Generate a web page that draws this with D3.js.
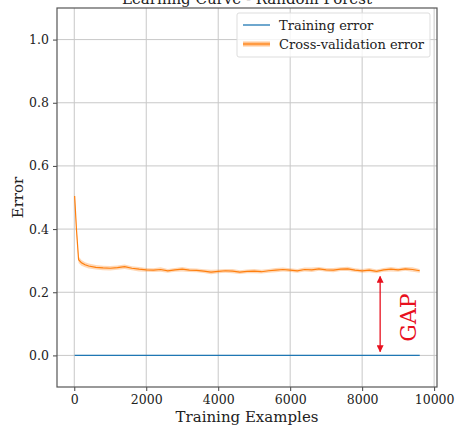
<!DOCTYPE html>
<html>
<head>
<meta charset="utf-8">
<script src="https://cdn.jsdelivr.net/npm/d3@7"></script>
<style>
  body { margin: 0; background: #fff; }
  text { font-family: "DejaVu Serif", serif; fill: #222; }
</style>
</head>
<body>
<svg id="chart" width="457" height="427"></svg>
<script>
// training set sizes
const trainSizes = [10, 60, 120, 200, 300, 400, 600, 800, 1000, 1200, 1400, 1600, 1800,
  2000, 2200, 2400, 2600, 2800, 3000, 3200, 3400, 3600, 3800, 4000, 4200, 4400, 4600,
  4800, 5000, 5200, 5400, 5600, 5800, 6000, 6200, 6400, 6600, 6800, 7000, 7200, 7400,
  7600, 7800, 8000, 8200, 8400, 8600, 8800, 9000, 9200, 9400, 9600];

const cvError = [0.505, 0.40, 0.303, 0.293, 0.287, 0.283, 0.279, 0.277, 0.276, 0.278, 0.281,
  0.276, 0.273, 0.271, 0.270, 0.272, 0.268, 0.271, 0.273, 0.270, 0.269, 0.267, 0.264,
  0.266, 0.268, 0.267, 0.264, 0.266, 0.267, 0.265, 0.268, 0.270, 0.272, 0.270, 0.268,
  0.272, 0.271, 0.274, 0.271, 0.270, 0.273, 0.274, 0.270, 0.268, 0.270, 0.266, 0.271,
  0.273, 0.271, 0.274, 0.272, 0.268];

const cvStd = [0.012, 0.011, 0.010, 0.009, 0.008, 0.008, 0.007, 0.007, 0.007, 0.007, 0.007,
  0.006, 0.007, 0.006, 0.006, 0.007, 0.006, 0.006, 0.007, 0.006, 0.006, 0.006, 0.007,
  0.006, 0.006, 0.007, 0.006, 0.006, 0.007, 0.006, 0.006, 0.007, 0.006, 0.006, 0.006,
  0.006, 0.007, 0.006, 0.006, 0.007, 0.006, 0.007, 0.006, 0.006, 0.007, 0.006, 0.006,
  0.007, 0.006, 0.006, 0.007, 0.006];

const trainError = [0, 0, 0, 0, 0, 0, 0, 0, 0, 0, 0, 0, 0, 0, 0, 0, 0, 0, 0, 0, 0, 0, 0, 0, 0, 0,
  0, 0, 0, 0, 0, 0, 0, 0, 0, 0, 0, 0, 0, 0, 0, 0, 0, 0, 0, 0, 0, 0, 0, 0, 0, 0];

const xTicks = [0, 2000, 4000, 6000, 8000, 10000];
const yTicks = [0.0, 0.2, 0.4, 0.6, 0.8, 1.0];
const legendLabels = ["Training error", "Cross-validation error"];
const gapArrow = { x: 8500, y0: 0.25, y1: 0.012 };
const gapLabel = { x: 9250, y: 0.12, text: "GAP" };

const svg = d3.select("#chart");
const margin = { top: 8, right: 20, bottom: 40, left: 57 };
const W = 457, H = 427;
const x = d3.scaleLinear().domain([-480, 10080]).range([margin.left, W - margin.right]);
const y = d3.scaleLinear().domain([-0.1, 1.1]).range([H - margin.bottom, margin.top]);

const blue = "#1f77b4", orange = "#ff7f0e";

// grid
svg.append("g").selectAll("line").data(xTicks).join("line")
  .attr("x1", d => x(d)).attr("x2", d => x(d))
  .attr("y1", y.range()[0]).attr("y2", y.range()[1])
  .attr("stroke", "#c8c8c8").attr("stroke-width", 1);
svg.append("g").selectAll("line").data(yTicks).join("line")
  .attr("x1", x.range()[0]).attr("x2", x.range()[1])
  .attr("y1", d => y(d)).attr("y2", d => y(d))
  .attr("stroke", "#c8c8c8").attr("stroke-width", 1);

const rows = trainSizes.map((s, i) => ({ s, cv: cvError[i], sd: cvStd[i], tr: trainError[i] }));

// std band
svg.append("path").datum(rows)
  .attr("fill", orange).attr("fill-opacity", 0.3)
  .attr("d", d3.area().x(d => x(d.s)).y0(d => y(d.cv - d.sd)).y1(d => y(d.cv + d.sd)));

svg.append("path").datum(rows)
  .attr("fill", "none").attr("stroke", orange).attr("stroke-width", 1.2)
  .attr("d", d3.line().x(d => x(d.s)).y(d => y(d.cv)));

svg.append("path").datum(rows)
  .attr("fill", "none").attr("stroke", blue).attr("stroke-width", 1.3)
  .attr("d", d3.line().x(d => x(d.s)).y(d => y(d.tr)));

// axes
const xAxis = svg.append("g").attr("transform", `translate(0,${y.range()[0]})`)
  .call(d3.axisBottom(x).tickValues(xTicks).tickFormat(d3.format("d")).tickSize(4).tickPadding(4));
const yAxis = svg.append("g").attr("transform", `translate(${x.range()[0]},0)`)
  .call(d3.axisLeft(y).tickValues(yTicks).tickFormat(d3.format(".1f")).tickSize(4).tickPadding(4));
[xAxis, yAxis].forEach(g => {
  g.select(".domain").remove();
  g.selectAll(".tick line").attr("stroke", "#444");
  g.selectAll(".tick text").style("font-family", "DejaVu Serif").style("font-size", "12.5px").attr("fill", "#333");
});

// frame
svg.append("rect")
  .attr("x", x.range()[0]).attr("y", y.range()[1])
  .attr("width", x.range()[1] - x.range()[0]).attr("height", y.range()[0] - y.range()[1])
  .attr("fill", "none").attr("stroke", "#555").attr("stroke-width", 1.2);

// titles
svg.append("text").attr("x", (x.range()[0] + x.range()[1]) / 2).attr("y", 4)
  .attr("text-anchor", "middle").style("font-size", "15px").text("Learning Curve - Random Forest");
svg.append("text").attr("x", (x.range()[0] + x.range()[1]) / 2).attr("y", 422)
  .attr("text-anchor", "middle").style("font-size", "15px").text("Training Examples");
svg.append("text").attr("transform", `translate(23,${(y.range()[0] + y.range()[1]) / 2}) rotate(-90)`)
  .attr("text-anchor", "middle").style("font-size", "15px").text("Error");

// legend
const lg = svg.append("g").attr("transform", "translate(237,13)");
lg.append("rect").attr("width", 193).attr("height", 44).attr("rx", 2)
  .attr("fill", "#fff").attr("fill-opacity", 0.8).attr("stroke", "#ddd");
lg.append("line").attr("x1", 6).attr("x2", 33).attr("y1", 12).attr("y2", 12)
  .attr("stroke", blue).attr("stroke-width", 1.3);
lg.append("line").attr("x1", 6).attr("x2", 33).attr("y1", 31).attr("y2", 31)
  .attr("stroke", orange).attr("stroke-opacity", 0.45).attr("stroke-width", 5);
lg.append("line").attr("x1", 6).attr("x2", 33).attr("y1", 31).attr("y2", 31)
  .attr("stroke", orange).attr("stroke-width", 1.2);
lg.selectAll("text.lab").data(legendLabels).join("text").attr("class", "lab")
  .attr("x", 42).attr("y", (d, i) => 16.5 + i * 19)
  .style("font-size", "13px").text(d => d);

// gap annotation
const defs = svg.append("defs");
defs.append("marker").attr("id", "head").attr("viewBox", "0 0 10 10")
  .attr("refX", 9).attr("refY", 5).attr("markerWidth", 7).attr("markerHeight", 7)
  .attr("orient", "auto-start-reverse").attr("markerUnits", "userSpaceOnUse")
  .append("path").attr("d", "M0,0 L10,5 L0,10 z").attr("fill", "#e8101e");
svg.append("line")
  .attr("x1", x(gapArrow.x)).attr("x2", x(gapArrow.x))
  .attr("y1", y(gapArrow.y0)).attr("y2", y(gapArrow.y1))
  .attr("stroke", "#e8101e").attr("stroke-width", 1.3)
  .attr("marker-start", "url(#head)").attr("marker-end", "url(#head)");
svg.append("text")
  .attr("transform", `translate(${x(gapLabel.x) + 9},${y(gapLabel.y)}) rotate(-90)`)
  .attr("text-anchor", "middle").style("font-size", "22px").style("fill", "#e8101e")
  .text(gapLabel.text);
</script>
</body>
</html>
